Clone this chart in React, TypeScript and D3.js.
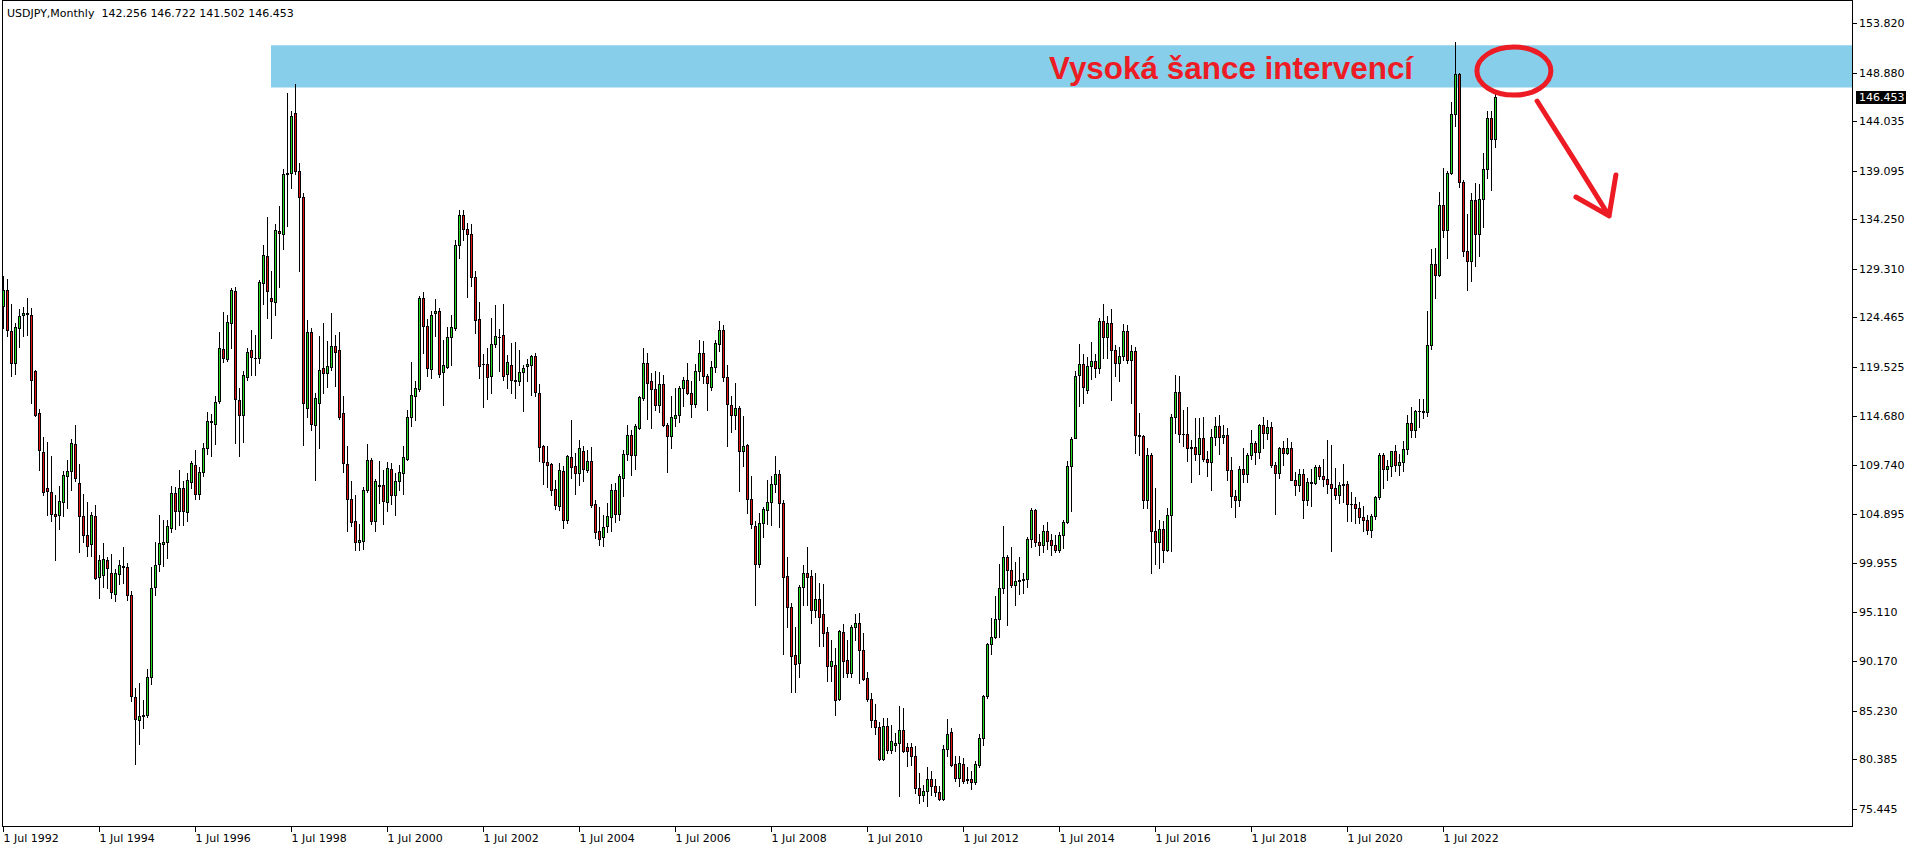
import React from "react";
import * as d3 from "d3";

type Bar = [number, number, number, number]; // open, high, low, close

// ---------- DATA (USDJPY monthly) ----------
const headerText = "USDJPY,Monthly  142.256 146.722 141.502 146.453";
const firstYear = 1992;
const firstMonth = 7; // July 1992

const y1992: Bar[] = [
  [125.6, 128.6, 123.4, 127.2], [127.2, 128.3, 122.6, 123.2], [123.1, 125.8, 118.6, 119.9],
  [119.9, 123.9, 118.8, 123.5], [123.4, 125.3, 121.5, 124.6], [124.7, 125.5, 122.6, 124.9],
];
const y1993: Bar[] = [
  [124.9, 126.4, 122.7, 124.8], [124.7, 125.4, 115.9, 118.2], [119.1, 119.2, 114.6, 114.7],
  [114.9, 115.3, 109.2, 111.2], [111.0, 112.5, 106.8, 107.1], [107.5, 112.0, 104.8, 107.2],
  [107.1, 110.6, 104.2, 104.9], [104.9, 106.8, 100.3, 104.7], [104.8, 107.7, 103.4, 106.2],
  [106.1, 109.1, 104.7, 108.7], [108.6, 110.2, 105.5, 109.1], [109.1, 112.3, 107.3, 111.9],
];
const y1994: Bar[] = [
  [111.8, 113.7, 108.2, 108.5], [108.0, 109.8, 101.1, 104.65], [104.7, 106.9, 102.1, 102.8],
  [102.8, 106.1, 100.7, 101.7], [101.9, 105.1, 100.7, 104.8], [104.7, 105.8, 98.4, 98.5],
  [98.6, 100.8, 96.5, 100.3], [98.8, 102.0, 97.6, 100.4], [100.3, 100.6, 97.5, 99.5],
  [99.0, 100.9, 96.5, 97.1], [96.9, 99.4, 96.2, 99.0], [98.9, 100.3, 97.9, 99.8],
];
const y1995: Bar[] = [
  [99.7, 101.6, 98.0, 99.6], [99.6, 100.0, 96.3, 96.75], [96.75, 97.2, 86.2, 86.7],
  [86.6, 87.5, 79.9, 84.4], [84.3, 88.0, 81.9, 84.7], [84.7, 86.3, 83.5, 84.8],
  [84.8, 89.4, 84.6, 88.6], [88.6, 99.6, 87.9, 97.5], [97.6, 102.1, 96.8, 99.8],
  [99.9, 104.8, 99.2, 102.0], [101.9, 104.3, 99.7, 102.1], [102.1, 104.3, 100.5, 103.7],
];
const y1996: Bar[] = [
  [103.5, 107.7, 103.1, 107.0], [107.0, 107.6, 103.35, 105.2], [105.2, 109.2, 103.75, 107.5],
  [107.5, 108.2, 103.75, 105.2], [105.1, 108.9, 104.2, 108.25], [108.1, 110.15, 107.5, 109.9],
  [109.7, 111.2, 106.4, 106.85], [106.85, 109.5, 106.4, 109.0], [109.0, 111.9, 108.6, 111.4],
  [111.4, 115.0, 110.8, 114.1], [114.1, 114.85, 110.6, 114.0], [113.8, 116.6, 111.85, 116.05],
];
const y1997: Bar[] = [
  [116.1, 123.0, 115.9, 121.4], [121.3, 125.0, 120.0, 120.4], [120.3, 124.7, 120.1, 124.0],
  [123.9, 127.4, 121.4, 127.2], [127.1, 127.5, 111.9, 116.3], [116.2, 117.4, 110.6, 114.7],
  [114.7, 119.1, 112.0, 118.7], [118.5, 121.4, 118.2, 121.0], [121.2, 123.2, 118.7, 120.5],
  [120.4, 122.7, 118.7, 120.4], [120.4, 128.2, 119.9, 128.0], [127.9, 131.7, 125.8, 130.7],
];
const y1998: Bar[] = [
  [130.6, 134.5, 124.4, 127.1], [126.4, 129.1, 122.4, 126.1], [126.0, 133.8, 124.7, 133.2],
  [133.1, 135.6, 127.5, 132.9], [132.8, 139.3, 131.3, 138.8], [138.8, 146.8, 133.6, 138.9],
  [138.9, 145.0, 137.4, 144.5], [144.8, 147.7, 138.8, 139.1], [139.1, 139.9, 129.1, 136.5],
  [136.5, 136.9, 111.7, 115.9], [115.4, 124.2, 114.5, 123.0], [123.0, 123.4, 113.2, 113.8],
];
const y1999: Bar[] = [
  [113.7, 116.9, 108.3, 116.4], [115.9, 122.6, 111.4, 119.2], [119.4, 123.9, 116.9, 118.9],
  [118.9, 122.1, 117.5, 119.6], [119.5, 124.9, 119.2, 121.6], [121.6, 122.7, 117.6, 121.0],
  [121.2, 123.0, 114.3, 114.5], [114.9, 116.6, 109.0, 109.9], [109.8, 111.6, 103.2, 106.4],
  [106.4, 108.2, 103.7, 104.1], [104.2, 106.8, 101.3, 102.1], [102.1, 103.9, 101.3, 102.3],
];
const y2000: Bar[] = [
  [102.2, 107.6, 101.4, 107.3], [107.3, 111.8, 107.1, 110.25], [110.25, 110.4, 103.9, 104.2],
  [104.2, 108.4, 103.2, 108.2], [107.8, 110.1, 106.0, 107.7], [107.75, 109.2, 103.9, 106.2],
  [106.1, 110.0, 105.2, 109.4], [109.3, 109.9, 105.9, 106.8], [106.8, 108.9, 104.8, 108.2],
  [108.2, 109.75, 107.3, 109.0], [108.9, 111.6, 106.9, 110.5], [110.3, 115.2, 110.25, 114.5],
];
const y2001: Bar[] = [
  [114.5, 120.0, 113.6, 116.7], [116.6, 118.1, 114.2, 117.4], [117.3, 126.6, 117.1, 126.4],
  [126.4, 127.0, 120.9, 123.6], [123.6, 124.3, 118.6, 119.4], [119.3, 125.1, 118.4, 124.7],
  [124.9, 126.3, 122.6, 125.1], [125.1, 125.4, 118.5, 118.8], [119.0, 122.2, 115.7, 119.7],
  [119.5, 123.5, 119.4, 122.5], [122.5, 124.7, 119.7, 123.5], [123.4, 132.2, 123.2, 131.7],
];
const y2002: Bar[] = [
  [131.7, 135.2, 130.4, 134.7], [134.7, 135.2, 132.2, 133.3], [133.3, 133.9, 126.5, 132.8],
  [132.8, 133.8, 127.6, 128.5], [128.5, 129.1, 122.9, 124.2], [124.3, 126.0, 118.4, 119.6],
  [119.8, 120.8, 115.5, 119.8], [119.8, 121.4, 116.3, 118.5], [118.6, 124.4, 116.9, 121.8],
  [121.8, 125.7, 121.5, 122.6], [122.5, 123.3, 119.1, 122.5], [122.7, 125.8, 118.2, 118.6],
];
const y2003: Bar[] = [
  [118.8, 120.7, 117.4, 120.0], [119.7, 121.95, 116.9, 118.2], [118.2, 122.05, 116.4, 118.1],
  [118.1, 121.2, 117.7, 119.0], [119.0, 119.7, 115.1, 119.4], [119.65, 120.3, 118.1, 119.8],
  [119.7, 120.7, 116.7, 120.6], [120.6, 120.9, 116.6, 117.0], [116.9, 117.8, 110.1, 111.5],
  [111.6, 111.7, 107.9, 110.0], [110.0, 111.6, 107.6, 109.7], [109.8, 109.9, 106.8, 107.3],
];
const y2004: Bar[] = [
  [107.4, 108.3, 105.4, 105.8], [105.7, 109.9, 105.3, 109.2], [109.1, 109.6, 103.5, 104.3],
  [104.3, 110.7, 104.0, 110.6], [110.5, 114.2, 108.5, 109.5], [109.6, 110.9, 106.9, 108.9],
  [108.9, 112.2, 107.8, 111.4], [111.1, 111.6, 108.2, 109.3], [109.2, 111.2, 109.0, 110.1],
  [110.1, 111.5, 105.6, 105.8], [105.9, 106.3, 102.5, 103.1], [103.2, 105.6, 101.8, 102.4],
];
const y2005: Bar[] = [
  [102.6, 104.8, 101.7, 103.6], [103.7, 106.0, 103.1, 104.7], [104.6, 107.9, 103.2, 107.3],
  [107.3, 108.0, 104.1, 104.9], [104.9, 108.8, 104.3, 108.6], [108.5, 111.2, 106.7, 110.8],
  [110.8, 113.7, 110.2, 112.7], [112.7, 113.2, 108.7, 110.7], [110.7, 113.8, 109.3, 113.6],
  [113.4, 116.6, 113.3, 116.5], [116.4, 121.4, 116.2, 119.9], [119.9, 120.9, 114.3, 117.96],
];
const y2006: Bar[] = [
  [118.1, 118.9, 113.4, 117.3], [117.3, 119.1, 115.2, 115.7], [115.7, 119.0, 115.0, 117.8],
  [117.8, 118.7, 113.6, 113.7], [113.7, 113.9, 109.0, 112.6], [112.6, 116.6, 111.4, 114.5],
  [114.4, 117.4, 113.6, 114.7], [114.7, 117.6, 114.0, 117.4], [117.4, 118.5, 115.6, 118.2],
  [118.2, 119.9, 116.8, 116.9], [116.9, 118.1, 114.5, 115.8], [115.8, 119.8, 115.5, 119.1],
];
const y2007: Bar[] = [
  [119.1, 122.2, 118.2, 120.9], [120.9, 122.1, 117.9, 118.6], [118.6, 118.8, 115.2, 117.9],
  [117.5, 120.1, 117.2, 119.5], [119.5, 122.2, 119.0, 121.9], [121.8, 124.1, 121.1, 123.2],
  [123.2, 123.7, 118.1, 118.5], [118.5, 119.7, 111.6, 115.8], [115.7, 116.6, 113.0, 114.7],
  [114.7, 117.9, 113.3, 115.4], [115.4, 115.6, 107.2, 111.1], [111.1, 114.6, 109.6, 111.6],
];
const y2008: Bar[] = [
  [111.7, 111.8, 105.0, 106.4], [106.4, 108.6, 103.5, 103.9], [103.7, 104.2, 95.8, 99.9],
  [99.9, 105.0, 99.6, 104.0], [104.0, 105.6, 102.6, 105.4], [105.3, 108.3, 103.9, 106.1],
  [106.1, 108.6, 103.8, 107.9], [107.9, 110.6, 107.1, 108.8], [108.8, 109.2, 103.6, 106.0],
  [106.0, 106.3, 90.9, 98.55], [98.7, 100.6, 93.6, 95.6], [95.6, 96.0, 87.15, 90.7],
];
const y2009: Bar[] = [
  [90.8, 93.6, 87.1, 89.9], [90.0, 97.8, 88.6, 97.6], [97.6, 99.8, 95.8, 98.95],
  [98.95, 101.6, 95.8, 98.6], [98.7, 99.3, 93.96, 95.3], [95.3, 99.0, 94.6, 96.4],
  [96.4, 97.95, 91.7, 94.6], [94.9, 97.9, 91.7, 93.0], [93.1, 93.6, 88.25, 89.75],
  [89.75, 92.3, 88.2, 90.2], [89.8, 91.5, 84.8, 86.3], [86.4, 93.3, 86.3, 93.2],
];
const y2010: Bar[] = [
  [93.1, 93.9, 88.65, 90.2], [90.3, 92.3, 88.65, 89.05], [89.05, 93.8, 88.65, 93.6],
  [93.6, 94.85, 92.25, 93.95], [93.95, 95.0, 88.05, 91.3], [91.3, 92.97, 88.3, 88.4],
  [88.5, 89.1, 86.2, 86.4], [86.4, 87.0, 83.65, 84.3], [84.3, 85.9, 82.9, 83.6],
  [83.6, 84.15, 80.35, 80.4], [80.4, 84.5, 80.35, 83.75], [83.75, 84.5, 81.0, 81.3],
];
const y2011: Bar[] = [
  [81.3, 83.8, 81.0, 82.2], [81.85, 83.0, 81.2, 82.05], [82.0, 85.7, 76.7, 83.3],
  [83.3, 85.5, 81.1, 81.2], [81.6, 82.0, 79.7, 81.2], [81.6, 82.0, 79.8, 80.7],
  [80.7, 81.7, 77.0, 77.5], [77.5, 79.0, 76.0, 76.85], [76.85, 77.85, 76.2, 77.25],
  [77.2, 79.6, 75.7, 78.4], [78.4, 79.2, 76.85, 77.7], [77.75, 78.4, 76.7, 77.1],
];
const y2012: Bar[] = [
  [77.1, 77.7, 76.3, 76.4], [76.4, 81.8, 76.35, 81.4], [81.4, 84.4, 80.7, 82.9],
  [83.1, 83.5, 79.7, 79.8], [79.9, 80.7, 78.2, 78.5], [78.5, 80.7, 77.7, 80.0],
  [79.9, 80.5, 78.0, 78.2], [78.4, 79.6, 78.0, 78.3], [78.4, 79.2, 77.4, 78.1],
  [78.1, 80.2, 77.9, 79.9], [79.8, 82.9, 79.6, 82.5], [82.5, 86.8, 81.8, 86.7],
];
const y2013: Bar[] = [
  [86.7, 91.98, 86.5, 91.9], [91.9, 94.5, 90.9, 92.6], [92.6, 96.7, 92.5, 94.4],
  [94.4, 99.9, 92.6, 97.5], [97.5, 103.7, 97.0, 100.55], [100.55, 100.8, 93.8, 99.3],
  [99.3, 101.6, 97.6, 97.8], [97.8, 100.1, 95.8, 98.2], [98.2, 100.6, 96.9, 98.3],
  [98.3, 99.0, 96.95, 98.4], [98.4, 102.6, 97.6, 102.4], [102.4, 105.45, 101.6, 105.3],
];
const y2014: Bar[] = [
  [105.3, 105.4, 101.7, 102.1], [102.1, 102.9, 100.8, 101.8], [101.8, 103.8, 101.1, 103.2],
  [103.2, 104.1, 101.4, 102.2], [102.3, 102.9, 100.8, 101.8], [101.8, 102.8, 101.1, 101.3],
  [101.3, 103.1, 101.1, 102.8], [102.8, 104.3, 101.5, 104.1], [104.1, 110.1, 104.0, 109.6],
  [109.6, 112.5, 105.2, 112.3], [112.4, 119.1, 112.4, 118.6], [118.7, 121.85, 115.6, 119.8],
];
const y2015: Bar[] = [
  [119.8, 120.8, 115.9, 117.5], [117.2, 120.5, 116.9, 119.6], [119.6, 122.0, 118.3, 120.1],
  [120.1, 120.8, 118.5, 119.4], [119.4, 124.45, 118.9, 124.1], [124.1, 125.85, 120.4, 122.5],
  [122.5, 124.6, 120.4, 123.9], [123.9, 125.3, 116.2, 121.2], [121.2, 121.7, 118.6, 119.9],
  [119.9, 121.5, 118.1, 120.6], [120.6, 123.8, 120.2, 123.1], [123.1, 123.7, 119.9, 120.2],
];
const y2016: Bar[] = [
  [120.2, 121.7, 115.97, 121.1], [121.1, 121.5, 110.97, 112.7], [112.7, 114.9, 110.7, 112.6],
  [112.6, 112.7, 105.5, 106.3], [106.3, 111.45, 105.5, 110.7], [110.7, 110.9, 99.0, 103.2],
  [103.2, 107.5, 99.9, 102.1], [102.1, 104.3, 99.5, 103.4], [103.4, 104.2, 100.1, 101.3],
  [101.3, 105.5, 101.2, 104.8], [104.8, 114.8, 101.2, 114.5], [114.5, 118.7, 112.9, 117.0],
];
const y2017: Bar[] = [
  [117.0, 118.6, 112.05, 112.8], [112.8, 115.2, 111.6, 112.8], [112.8, 115.5, 110.1, 111.4],
  [111.4, 112.2, 108.1, 111.5], [111.5, 114.4, 110.2, 110.8], [110.8, 114.4, 108.8, 112.4],
  [112.4, 114.5, 110.1, 110.3], [110.3, 111.1, 108.6, 110.0], [110.0, 113.3, 107.3, 112.5],
  [112.5, 114.5, 111.7, 113.6], [113.6, 114.7, 110.8, 112.5], [112.5, 113.75, 111.9, 112.7],
];
const y2018: Bar[] = [
  [112.7, 113.4, 108.3, 109.2], [109.2, 110.5, 105.55, 106.7], [106.7, 107.3, 104.6, 106.3],
  [106.3, 109.6, 105.7, 109.3], [109.3, 111.4, 108.1, 108.8], [108.8, 110.9, 108.1, 110.7],
  [110.7, 113.2, 110.3, 111.9], [111.9, 112.15, 109.8, 111.0], [111.0, 113.8, 110.4, 113.7],
  [113.7, 114.55, 111.4, 112.9], [112.9, 114.2, 112.3, 113.5], [113.5, 114.0, 109.5, 109.7],
];
const y2019: Bar[] = [
  [109.7, 110.0, 104.9, 108.9], [108.9, 111.5, 108.5, 111.4], [111.4, 112.1, 109.7, 110.9],
  [110.9, 112.4, 110.8, 111.4], [111.4, 112.0, 108.3, 108.3], [108.3, 109.0, 106.8, 107.8],
  [107.8, 109.3, 107.2, 108.8], [108.8, 109.3, 104.5, 106.3], [106.3, 108.5, 105.8, 108.1],
  [108.1, 109.3, 105.7, 108.0], [108.0, 109.7, 107.9, 109.5], [109.5, 109.7, 108.4, 108.6],
];
const y2020: Bar[] = [
  [108.6, 110.3, 107.65, 108.35], [108.35, 112.2, 107.0, 107.9], [107.9, 111.7, 101.2, 107.5],
  [107.5, 109.4, 106.4, 106.8], [106.8, 108.1, 105.99, 107.8], [107.8, 109.85, 106.1, 107.9],
  [107.9, 108.2, 104.2, 105.9], [105.9, 107.05, 104.2, 105.9], [105.9, 106.55, 104.0, 105.5],
  [105.5, 106.1, 104.0, 104.6], [104.6, 105.7, 103.2, 104.3], [104.3, 104.8, 102.9, 103.25],
];
const y2021: Bar[] = [
  [103.25, 104.9, 102.6, 104.7], [104.7, 106.7, 104.4, 106.6], [106.6, 110.97, 106.4, 110.7],
  [110.7, 110.96, 107.5, 109.3], [109.3, 110.2, 108.3, 109.6], [109.6, 111.1, 108.6, 111.1],
  [111.1, 111.7, 109.1, 109.7], [109.7, 110.8, 108.7, 110.0], [110.0, 112.1, 109.1, 111.3],
  [111.3, 114.7, 110.8, 113.95], [113.95, 115.5, 112.5, 113.2], [113.2, 115.2, 112.5, 115.1],
];
const y2022: Bar[] = [
  [115.1, 116.35, 113.5, 115.1], [115.1, 116.3, 114.4, 115.0], [115.0, 125.1, 114.65, 121.7],
  [121.7, 131.25, 121.3, 129.8], [129.8, 131.35, 126.35, 128.7], [128.7, 137.0, 128.6, 135.7],
  [135.7, 139.4, 132.5, 133.2], [133.2, 139.1, 130.4, 138.9], [138.9, 145.9, 138.8, 144.7],
  [144.7, 151.95, 143.5, 148.7], [148.7, 148.8, 137.5, 138.0], [138.0, 138.2, 130.6, 131.1],
];
const y2023: Bar[] = [
  [131.1, 134.8, 127.2, 130.1], [130.1, 136.9, 128.1, 136.2], [136.2, 137.9, 129.6, 132.8],
  [132.8, 137.8, 130.6, 136.3], [136.3, 140.9, 133.5, 139.3], [139.3, 145.0, 138.4, 144.3],
  [144.3, 145.05, 137.2, 142.3], [142.256, 146.722, 141.502, 146.453],
];

const candles: Bar[] = [
  ...y1992, ...y1993, ...y1994, ...y1995, ...y1996, ...y1997, ...y1998, ...y1999,
  ...y2000, ...y2001, ...y2002, ...y2003, ...y2004, ...y2005, ...y2006, ...y2007,
  ...y2008, ...y2009, ...y2010, ...y2011, ...y2012, ...y2013, ...y2014, ...y2015,
  ...y2016, ...y2017, ...y2018, ...y2019, ...y2020, ...y2021, ...y2022, ...y2023,
];

const priceTicks = [
  153.82, 148.88, 144.035, 139.095, 134.25, 129.31, 124.465, 119.525, 114.68,
  109.74, 104.895, 99.955, 95.11, 90.17, 85.23, 80.385, 75.445,
];
const dateTickLabels = [
  "1 Jul 1992", "1 Jul 1994", "1 Jul 1996", "1 Jul 1998", "1 Jul 2000", "1 Jul 2002",
  "1 Jul 2004", "1 Jul 2006", "1 Jul 2008", "1 Jul 2010", "1 Jul 2012", "1 Jul 2014",
  "1 Jul 2016", "1 Jul 2018", "1 Jul 2020", "1 Jul 2022",
];
const lastPrice = 146.453;

// highlighted "intervention" zone (price band, starting month)
const zoneStart = "1998-02";
const zoneLow = 147.39;
const zoneHigh = 151.6;
const annotationText = "Vysoká šance intervencí";

// ---------- STYLE / LAYOUT ----------
const W = 1916;
const H = 850;
const LEFT = 2;
const RIGHT = 1852;
const BOTTOM = 826;
const GREEN = "#22dd22";
const RED = "#e41414";
const INK = "#ed1c24";
const AXIS_FONT = "'DejaVu Sans', Verdana, sans-serif";

export default function App() {
  const months = candles.map((_, i) => {
    const m = firstMonth - 1 + i;
    return `${firstYear + Math.floor(m / 12)}-${String((m % 12) + 1).padStart(2, "0")}`;
  });
  const x = d3
    .scaleBand<string>()
    .domain(months)
    .range([1.5, 1.5 + 4 * months.length])
    .paddingInner(0.25)
    .paddingOuter(0.125);
  // continuous bar-index scale (centre of bars), used for annotations beyond the last bar
  const xi = d3
    .scaleLinear()
    .domain([0, months.length - 1])
    .range([x(months[0])! + 1.5, x(months[months.length - 1])! + 1.5]);
  const y = d3.scaleLinear().domain([75.445, 153.82]).range([809, 23]);

  const zoneX = x(zoneStart)! + 1;
  const zoneY0 = y(zoneHigh);
  const zoneY1 = y(zoneLow);

  // annotation anchors (bar index, price)
  const ell = { i: 377.6, p: 149.03 };
  const ellRx = xi(ell.i + 9.25) - xi(ell.i);
  const ellRy = y(ell.p - 2.4) - y(ell.p);
  const arrowPath =
    `M${xi(383.4)},${y(146.04)} L${xi(392.5)},${y(140.3)} L${xi(401.4)},${y(134.58)} ` +
    `M${xi(393.1)},${y(136.47)} L${xi(401.4)},${y(134.58)} L${xi(403.1)},${y(138.67)}`;

  const lastY = Math.round(y(lastPrice));

  return (
    <svg
      width={W}
      height={H}
      viewBox={`0 0 ${W} ${H}`}
      style={{ position: "fixed", left: 0, top: 0, background: "#fff" }}
    >
      <rect x={0} y={0} width={W} height={H} fill="#ffffff" />

      {/* intervention zone */}
      <rect x={zoneX} y={zoneY0} width={RIGHT - zoneX} height={zoneY1 - zoneY0} fill="#87ceeb" />

      {/* candles */}
      <g shapeRendering="crispEdges">
        {candles.map(([o, h, l, c], i) => {
          const bx = x(months[i])!;
          const wx = bx + 1.5;
          const hi = Math.max(h, o, c);
          const lo = Math.min(l, o, c);
          const yh = Math.round(y(hi));
          const yl = Math.round(y(lo));
          const yt = Math.round(y(Math.max(o, c)));
          const yb = Math.round(y(Math.min(o, c)));
          const up = c >= o;
          return (
            <g key={months[i]}>
              <line x1={wx} x2={wx} y1={yh} y2={yl + 1} stroke="#000" strokeWidth={1} />
              {yb - yt >= 1 ? (
                <rect
                  x={bx + 0.5}
                  y={yt + 0.5}
                  width={2}
                  height={yb - yt}
                  fill={up ? GREEN : RED}
                  stroke="#000"
                  strokeWidth={1}
                />
              ) : (
                <line x1={bx} x2={bx + 3} y1={yt + 0.5} y2={yt + 0.5} stroke="#000" strokeWidth={1} />
              )}
            </g>
          );
        })}
      </g>

      {/* annotation text, ellipse, arrow */}
      <text
        x={xi(261.4)}
        y={y(148.24)}
        fontFamily="'Liberation Sans', Arial, sans-serif"
        fontWeight="bold"
        fontSize={31}
        fill={INK}
        textLength={364}
        lengthAdjust="spacingAndGlyphs"
      >
        {annotationText}
      </text>
      <ellipse cx={xi(ell.i)} cy={y(ell.p)} rx={ellRx} ry={ellRy} fill="none" stroke={INK} strokeWidth={5} />
      <path d={arrowPath} fill="none" stroke={INK} strokeWidth={5} strokeLinecap="round" strokeLinejoin="round" />

      {/* frame */}
      <g shapeRendering="crispEdges" stroke="#000" strokeWidth={1}>
        <line x1={LEFT + 0.5} x2={LEFT + 0.5} y1={0} y2={BOTTOM + 1} />
        <line x1={RIGHT + 0.5} x2={RIGHT + 0.5} y1={0} y2={BOTTOM + 1} />
        <line x1={LEFT} x2={RIGHT + 1} y1={BOTTOM + 0.5} y2={BOTTOM + 0.5} />
        <line x1={LEFT} x2={RIGHT + 1} y1={0.5} y2={0.5} />
      </g>

      {/* header */}
      <text x={7} y={17} fontFamily={AXIS_FONT} fontSize={11} fill="#000" style={{ whiteSpace: "pre" }}>
        {headerText}
      </text>

      {/* price axis */}
      <g fontFamily={AXIS_FONT} fontSize={11} fill="#000">
        {priceTicks.map((v) => {
          const ty = Math.round(y(v));
          return (
            <g key={v}>
              <line x1={RIGHT + 1} x2={RIGHT + 5} y1={ty + 0.5} y2={ty + 0.5} stroke="#000" shapeRendering="crispEdges" />
              <text x={RIGHT + 7} y={ty + 4}>
                {v.toFixed(3)}
              </text>
            </g>
          );
        })}
        <rect x={RIGHT + 4} y={lastY - 6} width={50} height={13} fill="#000" shapeRendering="crispEdges" />
        <text x={RIGHT + 7} y={lastY + 4} fill="#fff">
          {lastPrice.toFixed(3)}
        </text>
      </g>

      {/* time axis */}
      <g fontFamily={AXIS_FONT} fontSize={11} fill="#000">
        {dateTickLabels.map((lab) => {
          const yr = lab.split(" ")[2];
          const bx = x(`${yr}-07`)!;
          const tx = bx + 1.5;
          return (
            <g key={lab}>
              <line x1={tx} x2={tx} y1={BOTTOM + 1} y2={BOTTOM + 6} stroke="#000" shapeRendering="crispEdges" />
              <text x={tx} y={842}>
                {lab}
              </text>
            </g>
          );
        })}
      </g>
    </svg>
  );
}
